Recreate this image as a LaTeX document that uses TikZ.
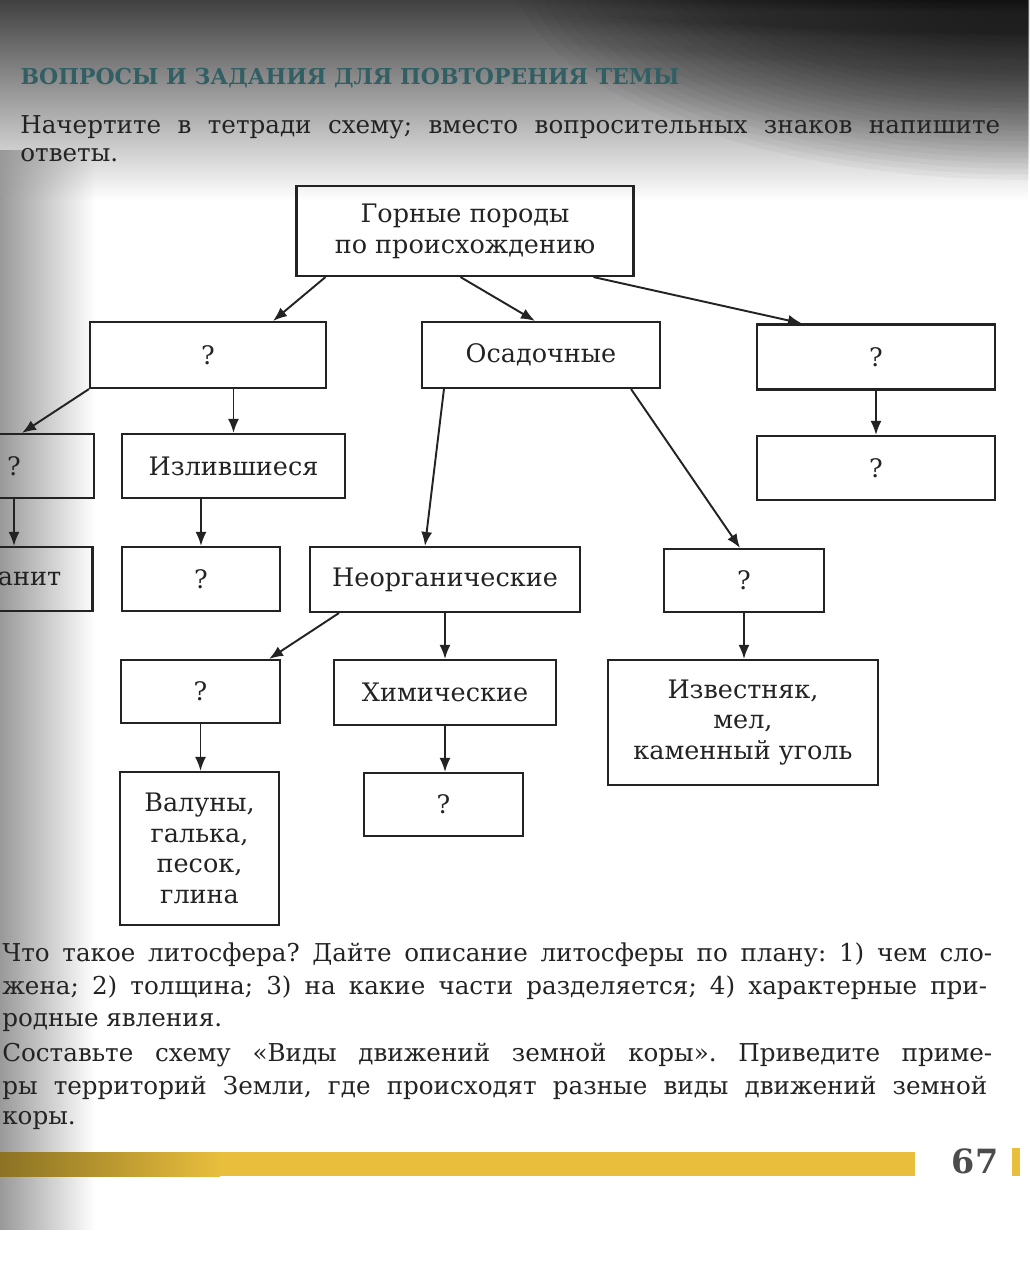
\documentclass[tikz,border=0pt]{standalone}
\usepackage{fontspec}
\setmainfont{DejaVu Serif}
\usetikzlibrary{arrows.meta,fadings}
\definecolor{ink}{RGB}{35,35,35}
\definecolor{headteal}{RGB}{50,95,100}
\definecolor{bar}{RGB}{232,190,60}
\newcommand{\boxfont}{\fontsize{14.5}{17.5}\selectfont}
\newcommand{\txtfont}{\fontsize{14}{17}\selectfont}
\tikzfading[name=fadeedge,left color=transparent!0,right color=transparent!100]
\tikzfading[name=fadetop,top color=transparent!0,bottom color=transparent!100]
\frenchspacing
\begin{document}
\begin{tikzpicture}[x=0.02cm,y=-0.02cm,>={Latex[length=2.8mm,width=2.2mm]},
  blk/.style={draw=ink,line width=1.2pt,rectangle,minimum height=1.28cm,inner sep=2pt,align=center,font=\boxfont,text=ink},
  arr/.style={->,draw=ink,line width=1.1pt},
  txtline/.style={anchor=west,inner sep=0pt,font=\txtfont,text=ink}]
\useasboundingbox (0,0) rectangle (1029,1285);
\clip (0,0) rectangle (1029,1285);

% scan shading
\fill[black!75,path fading=fadetop] (0,0) rectangle (1029,200);
\foreach \r in {100,110,...,400}
  \fill[black,opacity=0.03] (1029,-40) ellipse ({1.3*\r} and {0.55*\r});
\fill[black!40,path fading=fadeedge] (0,150) rectangle (95,1230);

\node[anchor=east,inner sep=0pt,font=\bfseries\fontsize{12.5}{15}\selectfont,text=headteal] (head) at (680,78) {ВОПРОСЫ И ЗАДАНИЯ ДЛЯ ПОВТОРЕНИЯ ТЕМЫ};
\node[txtline] (taska) at (20,127) {\makebox[19.6cm][s]{Начертите в тетради схему; вместо вопросительных знаков напишите}};
\node[txtline] (taskb) at (20,155) {ответы.};

% the scheme
\node[blk,minimum width=6.74cm,minimum height=1.8cm] (rocks) at (465,231) {Горные породы\\по происхождению};
\node[blk,minimum width=4.72cm,minimum height=1.32cm] (ign) at (208,355) {?};
\node[blk,minimum width=4.76cm,minimum height=1.32cm] (sed) at (541,355) {Осадочные};
\node[blk,minimum width=4.76cm,minimum height=1.3cm] (met) at (876,357) {?};
\node[blk,minimum width=4.76cm] (metq) at (876,468) {?};
\node[blk,minimum width=3.2cm] (deep) at (14,466) {?};
\node[blk,minimum width=4.46cm] (eff) at (233.5,466) {Излившиеся};
\node[blk,minimum width=3.18cm] (gran) at (13,579) {Гранит};
\node[blk,minimum width=3.16cm] (effq) at (201,579) {?};
\node[blk,minimum width=5.4cm,minimum height=1.3cm] (inorg) at (445,579.5) {Неорганические};
\node[blk,minimum width=3.2cm,minimum height=1.26cm] (org) at (744,580.5) {?};
\node[blk,minimum width=3.18cm,minimum height=1.26cm] (clast) at (200.5,691.5) {?};
\node[blk,minimum width=4.44cm,minimum height=1.3cm] (chem) at (445,692.5) {Химические};
\node[blk,minimum width=5.4cm,minimum height=2.5cm] (lime) at (743,722.5) {Известняк,\\мел,\\каменный уголь};
\node[blk,minimum width=3.18cm,minimum height=3.06cm] (pebb) at (199.5,848.5) {Валуны,\\галька,\\песок,\\глина};
\node[blk,minimum width=3.18cm,minimum height=1.26cm] (chemq) at (443.5,804.5) {?};

\draw[arr] ([xshift=0.6cm]rocks.south west) -- ([xshift=-1.08cm]ign.north east);
\draw[arr] ([xshift=3.3cm]rocks.south west) -- ([xshift=-0.12cm]sed.north);
\draw[arr] ([xshift=-0.82cm]rocks.south east) -- ([xshift=0.92cm]met.north west);
\draw[arr] (ign.south west) -- ([xshift=0.16cm]deep.north);
\draw[arr] (ign.south -| eff.north) -- (eff.north);
\draw[arr] (deep.south) -- (deep.south |- gran.north);
\draw[arr] (eff.south -| effq.north) -- (effq.north);
\draw[arr] ([xshift=0.46cm]sed.south west) -- ([xshift=-0.4cm]inorg.north);
\draw[arr] ([xshift=-0.6cm]sed.south east) -- ([xshift=-0.08cm]org.north);
\draw[arr] (met.south) -- (metq.north);
\draw[arr] ([xshift=0.6cm]inorg.south west) -- ([xshift=-0.24cm]clast.north east);
\draw[arr] (inorg.south) -- (chem.north);
\draw[arr] (org.south) -- (org.south |- lime.north);
\draw[arr] (clast.south) -- (clast.south |- pebb.north);
\draw[arr] (chem.south) -- (chem.south |- chemq.north);

% questions below
\node[txtline] (qa) at (2,955) {\makebox[19.8cm][s]{Что такое литосфера? Дайте описание литосферы по плану: 1) чем сло-}};
\node[txtline] (qb) at (2,988) {\makebox[19.7cm][s]{жена; 2) толщина; 3) на какие части разделяется; 4) характерные при-}};
\node[txtline] (qc) at (2,1022) {родные явления.};
\node[txtline] (qd) at (2,1055) {\makebox[19.8cm][s]{Составьте схему «Виды движений земной коры». Приведите приме-}};
\node[txtline] (qe) at (2,1088) {\makebox[19.7cm][s]{ры территорий Земли, где происходят разные виды движений земной}};
\node[txtline] (qf) at (2,1120) {коры.};

% page foot
\shade[left color=black!40!bar,right color=bar] (0,1152) rectangle (220,1176);
\fill[bar] (220,1152) rectangle (915,1176);
\fill[bar] (1012,1148) rectangle (1020,1176);
\node[inner sep=0pt,font=\bfseries\fontsize{19}{20}\selectfont,text=black!70] (pg) at (975,1161) {67};
\end{tikzpicture}
\end{document}
